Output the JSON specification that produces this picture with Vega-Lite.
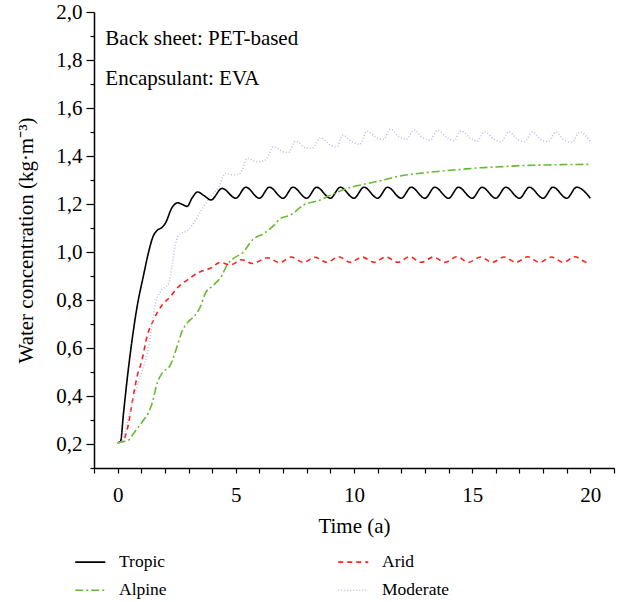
{
  "$schema": "https://vega.github.io/schema/vega-lite/v6.json",
  "autosize": "none",
  "width": 520,
  "height": 456,
  "padding": {"left": 94, "top": 12, "right": 10, "bottom": 134},
  "config": {
    "view": {"stroke": null},
    "font": "Liberation Serif",
    "axis": {"domainColor": "#000", "domainWidth": 1.5, "tickColor": "#000", "tickWidth": 1.2, "labelColor": "#000", "titleColor": "#000", "labelFont": "Liberation Serif", "titleFont": "Liberation Serif", "labelFontSize": 21, "titleFontSize": 21, "titleFontWeight": "normal", "grid": false}
  },
  "datasets": {
    "curves": [
      {"s":"Tropic","t":0,"v":0.205},{"s":"Tropic","t":0.12,"v":0.21},{"s":"Tropic","t":0.25,"v":0.33},{"s":"Tropic","t":0.4,"v":0.467},{"s":"Tropic","t":0.61,"v":0.633},{"s":"Tropic","t":0.82,"v":0.77},{"s":"Tropic","t":1.1,"v":0.905},{"s":"Tropic","t":1.31,"v":1.0},{"s":"Tropic","t":1.5,"v":1.065},{"s":"Tropic","t":1.65,"v":1.088},{"s":"Tropic","t":1.88,"v":1.103},{"s":"Tropic","t":2.02,"v":1.12},{"s":"Tropic","t":2.3,"v":1.185},{"s":"Tropic","t":2.55,"v":1.205},{"s":"Tropic","t":2.7,"v":1.2},{"s":"Tropic","t":2.94,"v":1.19},{"s":"Tropic","t":3.15,"v":1.225},{"s":"Tropic","t":3.38,"v":1.25},{"s":"Tropic","t":3.65,"v":1.235},{"s":"Tropic","t":3.95,"v":1.217},{"s":"Tropic","t":4.42,"v":1.265},{"s":"Tropic","t":5.0,"v":1.224},{"s":"Tropic","t":5.42,"v":1.27},{"s":"Tropic","t":6.0,"v":1.224},{"s":"Tropic","t":6.42,"v":1.27},{"s":"Tropic","t":7.0,"v":1.224},{"s":"Tropic","t":7.42,"v":1.27},{"s":"Tropic","t":8.0,"v":1.224},{"s":"Tropic","t":8.42,"v":1.27},{"s":"Tropic","t":9.0,"v":1.224},{"s":"Tropic","t":9.42,"v":1.27},{"s":"Tropic","t":10.0,"v":1.224},{"s":"Tropic","t":10.42,"v":1.27},{"s":"Tropic","t":11.0,"v":1.224},{"s":"Tropic","t":11.42,"v":1.27},{"s":"Tropic","t":12.0,"v":1.224},{"s":"Tropic","t":12.42,"v":1.27},{"s":"Tropic","t":13.0,"v":1.224},{"s":"Tropic","t":13.42,"v":1.27},{"s":"Tropic","t":14.0,"v":1.224},{"s":"Tropic","t":14.42,"v":1.27},{"s":"Tropic","t":15.0,"v":1.224},{"s":"Tropic","t":15.42,"v":1.27},{"s":"Tropic","t":16.0,"v":1.224},{"s":"Tropic","t":16.42,"v":1.27},{"s":"Tropic","t":17.0,"v":1.224},{"s":"Tropic","t":17.42,"v":1.27},{"s":"Tropic","t":18.0,"v":1.224},{"s":"Tropic","t":18.42,"v":1.27},{"s":"Tropic","t":19.0,"v":1.224},{"s":"Tropic","t":19.42,"v":1.27},{"s":"Tropic","t":20.0,"v":1.224},

      {"s":"Arid","t":0,"v":0.205},{"s":"Arid","t":0.2,"v":0.21},{"s":"Arid","t":0.4,"v":0.258},{"s":"Arid","t":0.61,"v":0.37},{"s":"Arid","t":0.82,"v":0.48},{"s":"Arid","t":1.03,"v":0.55},{"s":"Arid","t":1.24,"v":0.647},{"s":"Arid","t":1.52,"v":0.717},{"s":"Arid","t":1.88,"v":0.779},{"s":"Arid","t":2.23,"v":0.814},{"s":"Arid","t":2.51,"v":0.849},{"s":"Arid","t":2.94,"v":0.883},{"s":"Arid","t":3.5,"v":0.918},{"s":"Arid","t":3.92,"v":0.932},{"s":"Arid","t":4.35,"v":0.957},{"s":"Arid","t":4.77,"v":0.946},{"s":"Arid","t":5.25,"v":0.968},{"s":"Arid","t":5.7,"v":0.952},{"s":"Arid","t":6.35,"v":0.976},{"s":"Arid","t":6.85,"v":0.956},{"s":"Arid","t":7.35,"v":0.979},{"s":"Arid","t":7.85,"v":0.957},{"s":"Arid","t":8.35,"v":0.978},{"s":"Arid","t":8.85,"v":0.957},{"s":"Arid","t":9.35,"v":0.98},{"s":"Arid","t":9.85,"v":0.957},{"s":"Arid","t":10.35,"v":0.979},{"s":"Arid","t":10.85,"v":0.957},{"s":"Arid","t":11.35,"v":0.979},{"s":"Arid","t":11.85,"v":0.957},{"s":"Arid","t":12.35,"v":0.98},{"s":"Arid","t":12.85,"v":0.957},{"s":"Arid","t":13.35,"v":0.979},{"s":"Arid","t":13.85,"v":0.957},{"s":"Arid","t":14.35,"v":0.98},{"s":"Arid","t":14.85,"v":0.957},{"s":"Arid","t":15.35,"v":0.979},{"s":"Arid","t":15.85,"v":0.957},{"s":"Arid","t":16.35,"v":0.979},{"s":"Arid","t":16.85,"v":0.957},{"s":"Arid","t":17.35,"v":0.98},{"s":"Arid","t":17.85,"v":0.957},{"s":"Arid","t":18.35,"v":0.979},{"s":"Arid","t":18.85,"v":0.957},{"s":"Arid","t":19.35,"v":0.98},{"s":"Arid","t":19.85,"v":0.957},{"s":"Arid","t":20.0,"v":0.958},

      {"s":"Alpine","t":0,"v":0.205},{"s":"Alpine","t":0.25,"v":0.21},{"s":"Alpine","t":0.45,"v":0.215},{"s":"Alpine","t":0.68,"v":0.245},{"s":"Alpine","t":1.1,"v":0.3},{"s":"Alpine","t":1.3,"v":0.33},{"s":"Alpine","t":1.46,"v":0.37},{"s":"Alpine","t":1.67,"v":0.453},{"s":"Alpine","t":1.88,"v":0.495},{"s":"Alpine","t":2.23,"v":0.529},{"s":"Alpine","t":2.51,"v":0.605},{"s":"Alpine","t":2.72,"v":0.668},{"s":"Alpine","t":3.0,"v":0.71},{"s":"Alpine","t":3.22,"v":0.73},{"s":"Alpine","t":3.5,"v":0.772},{"s":"Alpine","t":3.71,"v":0.828},{"s":"Alpine","t":4.06,"v":0.862},{"s":"Alpine","t":4.42,"v":0.904},{"s":"Alpine","t":4.63,"v":0.946},{"s":"Alpine","t":4.91,"v":0.974},{"s":"Alpine","t":5.3,"v":0.998},{"s":"Alpine","t":5.7,"v":1.05},{"s":"Alpine","t":6.2,"v":1.078},{"s":"Alpine","t":6.6,"v":1.11},{"s":"Alpine","t":6.89,"v":1.14},{"s":"Alpine","t":7.31,"v":1.154},{"s":"Alpine","t":7.87,"v":1.196},{"s":"Alpine","t":8.58,"v":1.217},{"s":"Alpine","t":9.0,"v":1.237},{"s":"Alpine","t":9.71,"v":1.265},{"s":"Alpine","t":10.41,"v":1.282},{"s":"Alpine","t":11.12,"v":1.297},{"s":"Alpine","t":11.96,"v":1.317},{"s":"Alpine","t":12.81,"v":1.328},{"s":"Alpine","t":13.66,"v":1.337},{"s":"Alpine","t":14.5,"v":1.344},{"s":"Alpine","t":15.35,"v":1.351},{"s":"Alpine","t":16.2,"v":1.355},{"s":"Alpine","t":17.04,"v":1.36},{"s":"Alpine","t":17.89,"v":1.362},{"s":"Alpine","t":18.74,"v":1.364},{"s":"Alpine","t":19.86,"v":1.365},{"s":"Alpine","t":20.0,"v":1.365},

      {"s":"Moderate","t":0,"v":0.205},{"s":"Moderate","t":0.19,"v":0.21},{"s":"Moderate","t":0.35,"v":0.27},{"s":"Moderate","t":0.54,"v":0.342},{"s":"Moderate","t":0.82,"v":0.439},{"s":"Moderate","t":1.1,"v":0.522},{"s":"Moderate","t":1.31,"v":0.605},{"s":"Moderate","t":1.46,"v":0.703},{"s":"Moderate","t":1.6,"v":0.786},{"s":"Moderate","t":1.81,"v":0.835},{"s":"Moderate","t":2.16,"v":0.87},{"s":"Moderate","t":2.3,"v":0.94},{"s":"Moderate","t":2.44,"v":1.03},{"s":"Moderate","t":2.65,"v":1.075},{"s":"Moderate","t":3.0,"v":1.092},{"s":"Moderate","t":3.29,"v":1.133},{"s":"Moderate","t":3.64,"v":1.189},{"s":"Moderate","t":3.92,"v":1.23},{"s":"Moderate","t":4.28,"v":1.272},{"s":"Moderate","t":4.56,"v":1.328},{"s":"Moderate","t":4.91,"v":1.321},{"s":"Moderate","t":5.19,"v":1.328},{"s":"Moderate","t":5.48,"v":1.39},{"s":"Moderate","t":5.9,"v":1.376},{"s":"Moderate","t":6.25,"v":1.383},{"s":"Moderate","t":6.6,"v":1.439},{"s":"Moderate","t":7.0,"v":1.418},{"s":"Moderate","t":7.24,"v":1.415},{"s":"Moderate","t":7.52,"v":1.462},{"s":"Moderate","t":7.94,"v":1.435},{"s":"Moderate","t":8.23,"v":1.432},{"s":"Moderate","t":8.58,"v":1.476},{"s":"Moderate","t":9.0,"v":1.446},{"s":"Moderate","t":9.28,"v":1.439},{"s":"Moderate","t":9.52,"v":1.487},{"s":"Moderate","t":9.9,"v":1.46},{"s":"Moderate","t":10.25,"v":1.449},{"s":"Moderate","t":10.55,"v":1.504},{"s":"Moderate","t":10.95,"v":1.476},{"s":"Moderate","t":11.25,"v":1.47},{"s":"Moderate","t":11.54,"v":1.512},{"s":"Moderate","t":11.9,"v":1.48},{"s":"Moderate","t":12.22,"v":1.47},{"s":"Moderate","t":12.53,"v":1.508},{"s":"Moderate","t":12.9,"v":1.476},{"s":"Moderate","t":13.22,"v":1.466},{"s":"Moderate","t":13.54,"v":1.507},{"s":"Moderate","t":13.9,"v":1.479},{"s":"Moderate","t":14.22,"v":1.463},{"s":"Moderate","t":14.53,"v":1.504},{"s":"Moderate","t":14.92,"v":1.474},{"s":"Moderate","t":15.21,"v":1.462},{"s":"Moderate","t":15.52,"v":1.501},{"s":"Moderate","t":15.91,"v":1.471},{"s":"Moderate","t":16.22,"v":1.46},{"s":"Moderate","t":16.55,"v":1.501},{"s":"Moderate","t":16.9,"v":1.471},{"s":"Moderate","t":17.21,"v":1.46},{"s":"Moderate","t":17.56,"v":1.5},{"s":"Moderate","t":17.89,"v":1.47},{"s":"Moderate","t":18.2,"v":1.46},{"s":"Moderate","t":18.53,"v":1.499},{"s":"Moderate","t":18.88,"v":1.467},{"s":"Moderate","t":19.19,"v":1.457},{"s":"Moderate","t":19.56,"v":1.499},{"s":"Moderate","t":20.0,"v":1.46}
    ]
  },
  "layer": [
    {
      "data": {"name": "curves"},
      "mark": {"type": "line", "interpolate": "monotone"},
      "encoding": {
        "x": {"field": "t", "type": "quantitative", "title": "Time (a)",
          "scale": {"domain": [-1, 21], "nice": false, "zero": false},
          "axis": {"values": [-1,0,1,2,3,4,5,6,7,8,9,10,11,12,13,14,15,16,17,18,19,20,21], "tickCount": 40, "labelExpr": "datum.value % 5 == 0 && datum.value >= 0 && datum.value <= 20 ? format(datum.value, 'd') : ''", "tickSize": 5, "labelPadding": 11, "titlePadding": 10, "labelFlush": false, "labelOverlap": false}},
        "y": {"field": "v", "type": "quantitative", "title": "Water concentration (kg·m⁻³)",
          "scale": {"domain": [0.1, 2.0], "nice": false, "zero": false},
          "axis": {"values": [0.1,0.2,0.3,0.4,0.5,0.6,0.7,0.8,0.9,1.0,1.1,1.2,1.3,1.4,1.5,1.6,1.7,1.8,1.9,2.0], "tickCount": 40, "labelExpr": "round(datum.value*10) % 2 == 0 ? replace(format(datum.value, '.1f'), '.', ',') : ''", "tickSize": {"condition": {"test": "round(datum.value*10) % 2 == 0", "value": 8}, "value": 4}, "labelPadding": 4, "titlePadding": 19, "labelFlush": false, "labelOverlap": false}},
        "color": {"field": "s", "type": "nominal",
          "scale": {"domain": ["Tropic", "Alpine", "Arid", "Moderate"], "range": ["#000000", "#66bb33", "#ff2020", "#bcc0e8"]},
          "legend": {"orient": "none", "legendX": -12.5, "legendY": 541, "columns": 2, "columnPadding": 167, "rowPadding": 9.5, "title": null, "symbolType": "M-2,0H2", "symbolSize": 225, "symbolStrokeWidth": 1.5, "labelOffset": 20, "labelFont": "Liberation Serif", "labelFontSize": 17.5, "labelColor": "#000"}},
        "strokeDash": {"field": "s", "type": "nominal",
          "scale": {"domain": ["Tropic", "Alpine", "Arid", "Moderate"], "range": [[1, 0], [8, 3, 2, 3], [5, 4], [1, 2]]},
          "legend": null},
        "strokeWidth": {"field": "s", "type": "nominal",
          "scale": {"domain": ["Tropic", "Alpine", "Arid", "Moderate"], "range": [1.6, 1.6, 1.6, 1.2]},
          "legend": null}
      }
    },
    {
      "data": {"values": [{"label": "Back sheet: PET-based"}]},
      "mark": {"type": "text", "align": "left", "baseline": "alphabetic", "font": "Liberation Serif", "fontSize": 21, "color": "#000"},
      "encoding": {"x": {"datum": -0.52}, "y": {"datum": 1.8625}, "text": {"field": "label"}}
    },
    {
      "data": {"values": [{"label": "Encapsulant: EVA"}]},
      "mark": {"type": "text", "align": "left", "baseline": "alphabetic", "font": "Liberation Serif", "fontSize": 21, "color": "#000"},
      "encoding": {"x": {"datum": -0.52}, "y": {"datum": 1.696}, "text": {"field": "label"}}
    }
  ]
}
